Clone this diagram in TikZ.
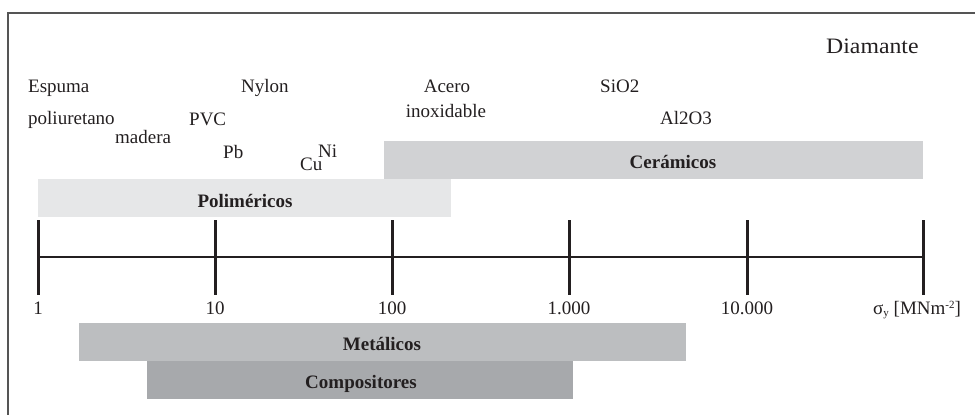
\documentclass[tikz,border=0pt]{standalone}
\usepackage{fontspec}
\setmainfont{Liberation Serif}
\definecolor{txt}{HTML}{231F20}
\definecolor{cpol}{HTML}{E6E7E8}
\definecolor{ccer}{HTML}{D1D2D4}
\definecolor{cmet}{HTML}{BCBEC0}
\definecolor{ccom}{HTML}{A7A9AC}
\definecolor{frame}{HTML}{555555}
\tikzset{
  lbl/.style={anchor=base west, inner sep=0pt, text=txt, font=\fontsize{19}{22}\selectfont},
  lblc/.style={anchor=base, inner sep=0pt, text=txt, font=\fontsize{19}{22}\selectfont},
  blbl/.style={anchor=base, inner sep=0pt, text=txt, font=\fontsize{19}{22}\selectfont\bfseries},
  tickln/.style={line width=3pt, draw=txt},
  axisln/.style={line width=2pt, draw=txt},
}
\begin{document}
\begin{tikzpicture}[x=1pt,y=-1pt]
\useasboundingbox (0,0) rectangle (975,415);
% frame
\draw[frame, line width=1.5pt] (8,415) -- (8,13) -- (975,13);
% bars
\fill[cpol] (38,179) rectangle (451,217);
\fill[ccer] (384,141) rectangle (923,179);
\fill[cmet] (79,323) rectangle (686,361);
\fill[ccom] (147,361) rectangle (573,399);
\node[blbl] (pol) at (245,207) {Poliméricos};
\node[blbl] (cer) at (673,168) {Cerámicos};
\node[blbl] (met) at (382,350) {Metálicos};
\node[blbl] (com) at (361,388) {Compositores};
% axis
\coordinate (a0) at (38,257);
\coordinate (a5) at (923,257);
\draw[axisln] (a0) -- (a5);
\foreach \x/\n/\t in {38/t0/1, 215/t1/10, 392/t2/100, 569/t3/1.000, 747/t4/10.000, 923/t5/{}}{
  \draw[tickln] (\x,220) -- (\x,295);
  \node[lblc] (\n) at (\x,314) {\t};
}
\node[lbl] (unit) at (873,314) {σ\raisebox{-2.5pt}{\fontsize{11}{11}\selectfont y} [MNm\raisebox{6pt}{\fontsize{11}{11}\selectfont -2}]};
% material labels
\node[lbl] (esp) at (28,92) {Espuma};
\node[lbl] (pol2) at (28,124) {poliuretano};
\node[lbl] (mad) at (115,143) {madera};
\node[lbl] (pvc) at (189,125) {PVC};
\node[lbl] (pb) at (223,158) {Pb};
\node[lbl] (nyl) at (241,92) {Nylon};
\node[lbl] (cu) at (300,170) {Cu};
\node[lbl] (ni) at (318,157) {Ni};
\node[lblc] (ace) at (447,92) {Acero};
\node[lblc] (ino) at (446,117) {inoxidable};
\node[lbl] (sio) at (600,92) {SiO2};
\node[lbl] (alo) at (660,124) {Al2O3};
\node[lbl, font=\fontsize{22}{24}\selectfont, xscale=1.08] (dia) at (826,53) {Diamante};
\end{tikzpicture}
\end{document}
